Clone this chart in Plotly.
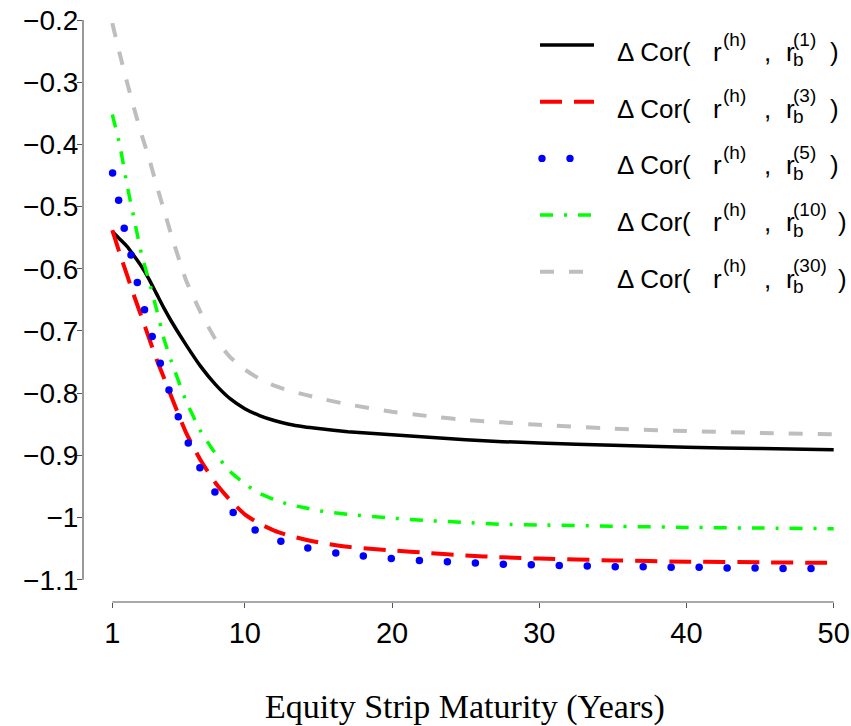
import plotly.graph_objects as go

# Equity strip maturity grid (years) for the continuous curves
maturity = [1, 1.5, 2, 2.5, 3, 3.5, 4, 4.5, 5, 6, 7, 8, 9, 10, 11, 12, 13, 14, 15,
            17, 20, 22.5, 25, 27.5, 30, 35, 40, 45, 50]

# Change in correlation between the equity strip return and bond returns
cor_b1 = [-0.540, -0.552, -0.564, -0.580, -0.597, -0.617, -0.640, -0.663, -0.684,
          -0.722, -0.757, -0.786, -0.809, -0.825, -0.836, -0.844, -0.850, -0.854,
          -0.857, -0.862, -0.867, -0.871, -0.875, -0.878, -0.880, -0.884, -0.887,
          -0.889, -0.891]
cor_b3 = [-0.538, -0.575, -0.610, -0.645, -0.678, -0.712, -0.745, -0.775, -0.805,
          -0.863, -0.908, -0.944, -0.972, -0.995, -1.010, -1.021, -1.029, -1.035,
          -1.040, -1.047, -1.053, -1.057, -1.061, -1.064, -1.066, -1.069, -1.071,
          -1.072, -1.073]
cor_b10 = [-0.352, -0.400, -0.465, -0.522, -0.578, -0.620, -0.665, -0.712, -0.748,
           -0.812, -0.861, -0.897, -0.926, -0.946, -0.961, -0.971, -0.979, -0.984,
           -0.989, -0.995, -1.001, -1.005, -1.008, -1.011, -1.012, -1.014, -1.016,
           -1.017, -1.018]
cor_b30 = [-0.205, -0.254, -0.300, -0.344, -0.385, -0.423, -0.465, -0.505, -0.545,
           -0.618, -0.670, -0.713, -0.742, -0.762, -0.777, -0.788, -0.796, -0.802,
           -0.808, -0.818, -0.830, -0.837, -0.843, -0.847, -0.851, -0.857, -0.861,
           -0.864, -0.866]

# The 5-year series is shown as a dotted trace
dot_maturity = [1.02, 1.43, 1.81, 2.27, 2.70, 3.19, 3.71, 4.26, 4.85, 5.48, 6.16,
                6.95, 7.97, 9.21, 10.70, 12.45, 14.28, 16.18, 18.05, 19.95, 21.86,
                23.76, 25.66, 27.56, 29.46, 31.36, 33.26, 35.16, 37.06, 38.96,
                40.86, 42.76, 44.66, 46.56, 48.46]
cor_b5 = [-0.446, -0.490, -0.535, -0.578, -0.622, -0.666, -0.709, -0.752, -0.795,
          -0.838, -0.880, -0.920, -0.959, -0.992, -1.020, -1.038, -1.049, -1.057,
          -1.062, -1.066, -1.069, -1.071, -1.073, -1.075, -1.076, -1.077, -1.078,
          -1.079, -1.079, -1.080, -1.080, -1.081, -1.081, -1.082, -1.082]

x_ticks = [1, 10, 20, 30, 40, 50]
y_ticks = [-1.1, -1.0, -0.9, -0.8, -0.7, -0.6, -0.5, -0.4, -0.3, -0.2]
bond_labels = ["1", "3", "5", "10", "30"]

W, H = 851, 726
ML, MR, MT, MB = 83, 0, 0, 124
PW, PH = W - ML - MR, H - MT - MB

SANS = "Liberation Sans, Arial, Helvetica, sans-serif"
SERIF = "Liberation Serif, Times New Roman, serif"
AXIS_GRAY = "#555555"


def paper_x(px):
    return (px - ML) / PW


def paper_y(py):
    return (MT + PH - py) / PH


styles = [
    dict(color="#000000", width=3.5, dash="solid"),
    dict(color="#FF0000", width=4, dash="22px,12px"),
    None,
    dict(color="#00FF00", width=3.5, dash="13px,11px,3px,11px"),
    dict(color="#BEBEBE", width=4, dash="14px,15px"),
]

fig = go.Figure()
curve_data = {0: cor_b1, 1: cor_b3, 3: cor_b10, 4: cor_b30}
for i, lab in enumerate(bond_labels):
    name = f"ΔCor(r(h), rb({lab}))"
    if i == 2:
        fig.add_trace(go.Scatter(
            x=dot_maturity, y=cor_b5, mode="markers", name=name,
            marker=dict(color="#0000FF", size=7.5, line=dict(width=0)),
            showlegend=False, hoverinfo="skip"))
    else:
        st = styles[i]
        fig.add_trace(go.Scatter(
            x=maturity, y=curve_data[i], mode="lines", name=name,
            line=dict(color=st["color"], width=st["width"], dash=st["dash"],
                      shape="spline", smoothing=0.5),
            showlegend=False, hoverinfo="skip"))

shapes = []
# detached axis lines spanning only the tick range
shapes.append(dict(type="line", xref="paper", yref="y", x0=0, x1=0,
                   y0=y_ticks[0], y1=y_ticks[-1],
                   line=dict(color=AXIS_GRAY, width=1.2)))
shapes.append(dict(type="line", xref="x", yref="paper", x0=x_ticks[0], x1=x_ticks[-1],
                   y0=0, y1=0, line=dict(color=AXIS_GRAY, width=1.2)))

annotations = []


def add_text(txt, left_px, mid_py, size):
    annotations.append(dict(
        text=txt, xref="paper", yref="paper", x=paper_x(left_px), y=paper_y(mid_py),
        xanchor="left", yanchor="middle", showarrow=False,
        font=dict(family=SANS, size=size, color="black"), borderpad=0))


# legend
row0, row_gap = 45, 56.7
sample_x0, sample_x1 = 540, 594
for i, lab in enumerate(bond_labels):
    ly = row0 + row_gap * i
    if i == 2:
        for cx in (542, 570):
            shapes.append(dict(type="circle", xref="paper", yref="paper",
                               x0=paper_x(cx - 3.7), x1=paper_x(cx + 3.7),
                               y0=paper_y(ly + 3.7), y1=paper_y(ly - 3.7),
                               fillcolor="#0000FF", line=dict(width=0)))
    else:
        st = styles[i]
        shapes.append(dict(type="line", xref="paper", yref="paper",
                           x0=paper_x(sample_x0), x1=paper_x(sample_x1),
                           y0=paper_y(ly), y1=paper_y(ly),
                           line=dict(color=st["color"], width=st["width"],
                                     dash=st["dash"])))
    main_mid = ly + 7
    add_text("Δ Cor(", 616, main_mid, 26)
    add_text("r", 712, main_mid, 26)
    add_text("(h)", 722, ly - 6, 19)
    add_text(",", 763, main_mid, 26)
    add_text("r", 785, main_mid, 26)
    add_text("b", 792, ly + 15, 19)
    add_text(f"({lab})", 792, ly - 6, 19)
    add_text(")", 829 if len(lab) == 1 else 837, main_mid, 26)

# x-axis title
annotations.append(dict(
    text="Equity Strip Maturity (Years)", xref="paper", yref="paper",
    x=paper_x(465), y=paper_y(707), xanchor="center", yanchor="middle",
    showarrow=False, font=dict(family=SERIF, size=34, color="black")))

px_per_year = (833.7 - 112.3) / (x_ticks[-1] - x_ticks[0])
x_range = [x_ticks[0] - (112.3 - ML) / px_per_year,
           x_ticks[-1] + (W - MR - 833.7) / px_per_year]
px_per_unit = (579.7 - 20) / (y_ticks[-1] - y_ticks[0])
y_range = [y_ticks[0] - (MT + PH - 579.7) / px_per_unit,
           y_ticks[-1] + (20 - MT) / px_per_unit]

fig.update_layout(
    width=W, height=H,
    margin=dict(l=ML, r=MR, t=MT, b=MB, pad=0),
    paper_bgcolor="white", plot_bgcolor="white",
    showlegend=False,
    shapes=shapes, annotations=annotations,
    xaxis=dict(range=x_range, tickvals=x_ticks, ticktext=[str(v) for v in x_ticks],
               showgrid=False, zeroline=False, showline=False,
               ticks="outside", ticklen=5, tickwidth=1.2, tickcolor=AXIS_GRAY,
               tickfont=dict(family=SANS, size=29, color="black")),
    yaxis=dict(range=y_range, tickvals=y_ticks,
               ticktext=[("−" + f"{abs(v):g}") for v in y_ticks],
               showgrid=False, zeroline=False, showline=False,
               ticks="outside", ticklen=5, tickwidth=1.2, tickcolor=AXIS_GRAY,
               ticklabelstandoff=-7,
               tickfont=dict(family=SANS, size=28, color="black")),
)

fig.write_html("out.html")
